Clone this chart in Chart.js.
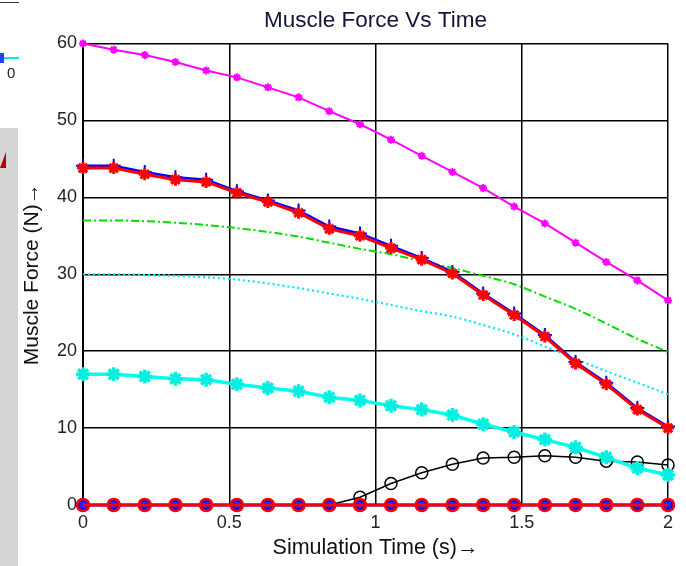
<!DOCTYPE html>
<html>
<head>
<meta charset="utf-8">
<script src="https://cdn.jsdelivr.net/npm/chart.js@4.4.1/dist/chart.umd.min.js"></script>
<style>
  html, body { margin: 0; padding: 0; background: #fff; }
  #wrap { position: relative; width: 686px; height: 566px; overflow: hidden; }
  #c { position: absolute; left: 0; top: 0; }
  .art { position: absolute; }
</style>
</head>
<body>
<div id="wrap">
  <canvas id="c" width="686" height="566"></canvas>
  <div class="art" style="left:0;top:2px;width:19px;height:1px;background:#333;"></div>
  <div class="art" style="left:0;top:57px;width:19px;height:2px;background:#00e8f0;"></div>
  <div class="art" style="left:0;top:53px;width:4px;height:10px;background:#2040ff;"></div>
  <div class="art" style="left:7px;top:64px;font:15px 'Liberation Sans',Arial,sans-serif;color:#222;">0</div>
  <div class="art" style="left:0;top:128px;width:18px;height:438px;background:#d4d4d4;"></div>
  <div class="art" style="left:0;top:152px;width:0;height:0;border-top:16px solid transparent;border-right:6px solid #b00000;"></div>
</div>
<script>
// ---- data ----
const timeValues = [0, 0.105, 0.211, 0.316, 0.421, 0.526, 0.632, 0.737, 0.842, 0.947,
                    1.053, 1.158, 1.263, 1.368, 1.474, 1.579, 1.684, 1.789, 1.895, 2];
const magentaForce = [60, 59.2, 58.5, 57.6, 56.5, 55.6, 54.3, 53.0, 51.2, 49.5,
                      47.5, 45.4, 43.3, 41.2, 38.8, 36.6, 34.1, 31.6, 29.2, 26.6];
const blueForce = [44.1, 44.1, 43.3, 42.6, 42.3, 40.8, 39.6, 38.3, 36.2, 35.3,
                   33.7, 32.1, 30.3, 27.5, 24.9, 22.1, 18.6, 15.9, 12.6, 10.2];
const redForce = [43.8, 43.8, 43.0, 42.3, 42.0, 40.6, 39.4, 38.0, 35.9, 35.0,
                  33.4, 31.9, 30.1, 27.3, 24.7, 21.9, 18.4, 15.7, 12.4, 10.0];
const greenForce = [37.0, 37.0, 36.9, 36.7, 36.4, 36.0, 35.5, 34.9, 34.1, 33.3,
                    32.6, 31.7, 30.8, 29.8, 28.7, 27.1, 25.5, 23.6, 21.6, 19.9];
const cyanDotForce = [30.0, 30.0, 29.9, 29.8, 29.6, 29.3, 28.8, 28.2, 27.5, 26.8,
                      26.0, 25.2, 24.5, 23.4, 22.2, 20.6, 19.0, 17.4, 15.9, 14.4];
const cyanStarForce = [17.0, 17.0, 16.7, 16.4, 16.3, 15.7, 15.2, 14.8, 14.0, 13.6,
                       12.9, 12.4, 11.7, 10.5, 9.5, 8.5, 7.5, 6.2, 4.8, 3.9];
const blackForce = [0, 0, 0, 0, 0, 0, 0, 0, 0, 1.0,
                    2.8, 4.2, 5.3, 6.1, 6.2, 6.4, 6.2, 5.7, 5.6, 5.2];
const blueZeroForce = [0, 0, 0, 0, 0, 0, 0, 0, 0, 0, 0, 0, 0, 0, 0, 0, 0, 0, 0, 0];
const redZeroForce = [0, 0, 0, 0, 0, 0, 0, 0, 0, 0, 0, 0, 0, 0, 0, 0, 0, 0, 0, 0];
const yTicks = [0, 10, 20, 30, 40, 50, 60];
const xTicks = [0, 0.5, 1, 1.5, 2];
const chartTitle = 'Muscle Force Vs Time';

function pts(ys) { return ys.map((y, i) => ({ x: timeValues[i], y: y })); }

const FONT = "'Liberation Sans', Arial, Helvetica, sans-serif";

const datasets = [
  { data: pts(redZeroForce), borderColor: '#ff0000', borderWidth: 3, pointStyle: 'circle',
    pointRadius: 6, pointBorderWidth: 2.5, pointBorderColor: '#ff0000', pointBackgroundColor: 'rgba(0,0,0,0)', order: 1 },
  { data: pts(blueZeroForce), borderColor: '#0000ff', borderWidth: 3, pointStyle: 'rect',
    pointRadius: 6, pointBorderWidth: 2, pointBorderColor: '#0000ff', pointBackgroundColor: '#2020ff', order: 2 },
  { data: pts(blackForce), borderColor: '#000000', borderWidth: 1.5, pointStyle: 'circle',
    pointRadius: 6, pointBorderWidth: 1.5, pointBorderColor: '#000000', pointBackgroundColor: 'rgba(0,0,0,0)', order: 4 },
  { data: pts(cyanStarForce), borderColor: '#00ffee', borderWidth: 3.5, pointStyle: 'star',
    pointRadius: 7, pointBorderWidth: 3.5, pointBorderColor: '#00f0e0', pointBackgroundColor: '#00ff80', order: 3 },
  { data: pts(redForce), borderColor: '#ff0000', borderWidth: 3, pointStyle: 'star',
    pointRadius: 6, pointBorderWidth: 3, pointBorderColor: '#ff0000', order: 5 },
  { data: pts(blueForce), borderColor: '#0000ff', borderWidth: 2.5, pointStyle: 'cross',
    pointRadius: 7, pointBorderWidth: 2, pointBorderColor: '#0000ff', order: 6 },
  { data: pts(greenForce), borderColor: '#00dd00', borderWidth: 2, borderDash: [8, 3, 2, 3],
    pointRadius: 0, cubicInterpolationMode: 'monotone', order: 7 },
  { data: pts(cyanDotForce), borderColor: '#00e8ff', borderWidth: 2.2, borderDash: [2, 3],
    pointRadius: 0, cubicInterpolationMode: 'monotone', order: 8 },
  { data: pts(magentaForce), borderColor: '#ff00ff', borderWidth: 2, pointStyle: 'star',
    pointRadius: 4, pointBorderWidth: 2, pointBorderColor: '#ff00ff', order: 9 }
];
datasets.forEach(d => { d.clip = false; d.fill = false; d.showLine = true; });

const titlePlugin = {
  id: 'areaTitle',
  afterDraw(chart) {
    const { ctx, chartArea } = chart;
    ctx.save();
    ctx.font = '22.5px ' + FONT;
    ctx.fillStyle = '#14143a';
    ctx.textAlign = 'center';
    ctx.textBaseline = 'middle';
    ctx.fillText(chartTitle, (chartArea.left + chartArea.right) / 2, 21);
    ctx.restore();
  }
};

new Chart(document.getElementById('c'), {
  type: 'scatter',
  data: { datasets: datasets },
  plugins: [titlePlugin],
  options: {
    responsive: false,
    animation: false,
    devicePixelRatio: 1,
    layout: { padding: { left: 0, right: 18, top: 43.5, bottom: 0 } },
    plugins: {
      legend: { display: false },
      tooltip: { enabled: false },
      title: { display: false }
    },
    scales: {
      x: {
        type: 'linear', min: 0, max: 2,
        afterBuildTicks: s => { s.ticks = xTicks.map(v => ({ value: v })); },
        afterFit: s => { s.height = 61; },
        grid: { color: '#000', lineWidth: 1.5, drawTicks: false },
        border: { color: '#000', width: 2 },
        ticks: { color: '#222', padding: 7, font: { family: FONT, size: 18 }, maxRotation: 0,
                 callback: v => String(v) },
        title: { display: true, text: 'Simulation Time (s)\u2192', color: '#111',
                 font: { family: FONT, size: 21.5 }, padding: { top: 0, bottom: 5 } }
      },
      y: {
        type: 'linear', min: 0, max: 60,
        afterBuildTicks: s => { s.ticks = yTicks.map(v => ({ value: v })); },
        afterFit: s => { s.width = 83; },
        grid: { color: '#000', lineWidth: 1.5, drawTicks: false },
        border: { color: '#000', width: 2 },
        ticks: { color: '#222', padding: 6, font: { family: FONT, size: 18 },
                 callback: v => String(v) },
        title: { display: true, text: 'Muscle Force (N)\u2192', color: '#111',
                 font: { family: FONT, size: 21 }, padding: { top: 20, bottom: 0 } }
      }
    }
  }
});
</script>
</body>
</html>
